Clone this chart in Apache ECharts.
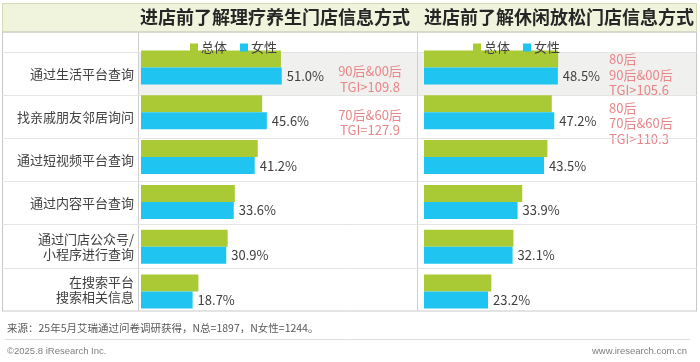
<!DOCTYPE html>
<html>
<head>
<meta charset="utf-8">
<script src="https://cdn.jsdelivr.net/npm/echarts@6/dist/echarts.min.js"></script>
<style>html,body{margin:0;padding:0;background:#fff;}#c{width:700px;height:362px;}</style>
</head>
<body>
<div id="c"></div>
<script>
const categories = ['通过生活平台查询','找亲戚朋友邻居询问','通过短视频平台查询','通过内容平台查询','通过门店公众号/\n小程序进行查询','在搜索平台\n搜索相关信息'];
const leftTitle = '进店前了解理疗养生门店信息方式';
const rightTitle = '进店前了解休闲放松门店信息方式';
const seriesNames = ['总体','女性'];
const leftTotal = [50.7, 43.9, 42.3, 34.0, 31.4, 20.8];
const leftFemale = [51.0, 45.6, 41.2, 33.6, 30.9, 18.7];
const rightTotal = [48.6, 46.3, 44.7, 35.6, 32.4, 24.4];
const rightFemale = [48.5, 47.2, 43.5, 33.9, 32.1, 23.2];
const leftNotes = ['90后&00后\nTGI>109.8', '70后&60后\nTGI=127.9'];
const rightNotes = ['80后\n90后&00后\nTGI>105.6', '80后\n70后&60后\nTGI>110.3'];
const sourceText = '来源：25年5月艾瑞通过问卷调研获得，N总=1897，N女性=1244。';
const copyText = '©2025.8 iResearch Inc.';
const siteText = 'www.iresearch.com.cn';

const GREEN = '#a9ca35', BLUE = '#1fc5f0';
const FONT = '"Noto Sans CJK SC","Noto Sans",sans-serif';
const chart = echarts.init(document.getElementById('c'), null, {renderer:'canvas'});

const hidden = {show:false};
function barGridAxes(idx){
  return {
    x: {type:'value', gridIndex:idx, min:0, max:100, show:false},
    y: {type:'category', gridIndex:idx, data:categories, inverse:true, show:false}
  };
}
const g2 = barGridAxes(2), g3 = barGridAxes(3);

function mkSeries(name, data, color, xi, yi, withLabel){
  return {
    type:'bar', name, data, xAxisIndex:xi, yAxisIndex:yi,
    barWidth:17, barGap:'0%', itemStyle:{color},
    label: withLabel ? {show:true, position:'right', distance:5, color:'#404040', fontSize:13, fontFamily:FONT,
      formatter: p => p.value.toFixed(1) + '%'} : {show:false},
    emphasis:{disabled:true}, animation:false
  };
}

const noteStyle = {fill:'#e8868a', fontSize:13, fontFamily:FONT, lineHeight:15.5};

chart.setOption({
  animation:false,
  grid:[
    {left:2, right:3, top:52, height:259},
    {left:139, width:278, top:52, height:259},
    {left:141, width:276, top:45, height:269},
    {left:424, width:276, top:45, height:269}
  ],
  xAxis:[
    {type:'value', gridIndex:0, show:false},
    {type:'value', gridIndex:1, show:false},
    g2.x, g3.x
  ],
  yAxis:[
    {type:'category', gridIndex:0, data:categories, inverse:true,
      axisLine:hidden, axisTick:hidden, axisLabel:hidden,
      splitLine:{show:true, lineStyle:{color:'#e4e4e4', width:1}}},
    {type:'category', gridIndex:1, data:categories, inverse:true,
      axisLine:hidden, axisTick:hidden, splitLine:hidden,
      axisLabel:{show:true, margin:5, color:'#404040', fontSize:13, fontFamily:FONT, lineHeight:15, align:'right', padding:[6,0,0,0]}},
    g2.y, g3.y
  ],
  legend:[
    {data:seriesNames, left:185, top:36, itemWidth:8, itemHeight:8, itemGap:13, icon:'rect',
      textStyle:{color:'#404040', fontSize:13, fontFamily:FONT, padding:[0,0,0,-2]}, selectedMode:false},
    {data:seriesNames, left:468, top:36, itemWidth:8, itemHeight:8, itemGap:13, icon:'rect',
      textStyle:{color:'#404040', fontSize:13, fontFamily:FONT, padding:[0,0,0,-2]}, selectedMode:false}
  ],
  series:[
    mkSeries(seriesNames[0], leftTotal, GREEN, 2, 2, false),
    mkSeries(seriesNames[1], leftFemale, BLUE, 2, 2, true),
    mkSeries(seriesNames[0], rightTotal, GREEN, 3, 3, false),
    mkSeries(seriesNames[1], rightFemale, BLUE, 3, 3, true)
  ],
  graphic:[
    {type:'rect', z:-10, silent:true, shape:{x:2.5, y:3.5, width:694, height:28.5}, style:{fill:'#f1f4dc', stroke:'#d5dab4', lineWidth:1}},
    {type:'rect', z:-10, silent:true, shape:{x:139, y:52, width:558, height:43}, style:{fill:'#f0f0ee'}},
    {type:'rect', z:-9, silent:true, shape:{x:2.5, y:32, width:694, height:279}, style:{fill:'none', stroke:'#c9c9c9', lineWidth:1}},
    {type:'line', z:-9, silent:true, shape:{x1:138.5, y1:32, x2:138.5, y2:311}, style:{stroke:'#cfcfcf', lineWidth:1}},
    {type:'line', z:-9, silent:true, shape:{x1:417.5, y1:32, x2:417.5, y2:311}, style:{stroke:'#cfcfcf', lineWidth:1}},
    {type:'text', silent:true, x:275, y:17, style:{text:leftTitle, fill:'#262626', fontSize:18, fontWeight:'bold', fontFamily:FONT, align:'center', verticalAlign:'middle'}},
    {type:'text', silent:true, x:559, y:17, style:{text:rightTitle, fill:'#262626', fontSize:18, fontWeight:'bold', fontFamily:FONT, align:'center', verticalAlign:'middle'}},
    {type:'text', silent:true, x:370, y:79, style:Object.assign({text:leftNotes[0], align:'center', verticalAlign:'middle'}, noteStyle)},
    {type:'text', silent:true, x:370, y:122.5, style:Object.assign({text:leftNotes[1], align:'center', verticalAlign:'middle'}, noteStyle)},
    {type:'text', silent:true, x:609, y:75, style:Object.assign({text:rightNotes[0], align:'left', verticalAlign:'middle'}, noteStyle)},
    {type:'text', silent:true, x:609, y:123.5, style:Object.assign({text:rightNotes[1], align:'left', verticalAlign:'middle'}, noteStyle)},
    {type:'text', silent:true, x:7, y:328, style:{text:sourceText, fill:'#595959', fontSize:10.5, fontFamily:FONT, align:'left', verticalAlign:'middle'}},
    {type:'line', silent:true, shape:{x1:5, y1:339.5, x2:690, y2:339.5}, style:{stroke:'#dedede', lineWidth:1}},
    {type:'text', silent:true, x:7, y:351, style:{text:copyText, fill:'#7f7f7f', fontSize:9.5, fontFamily:'"Liberation Sans",Arial,sans-serif', align:'left', verticalAlign:'middle'}},
    {type:'text', silent:true, x:687, y:351, style:{text:siteText, fill:'#7f7f7f', fontSize:9.5, fontFamily:'"Liberation Sans",Arial,sans-serif', align:'right', verticalAlign:'middle'}}
  ]
});
</script>
</body>
</html>
